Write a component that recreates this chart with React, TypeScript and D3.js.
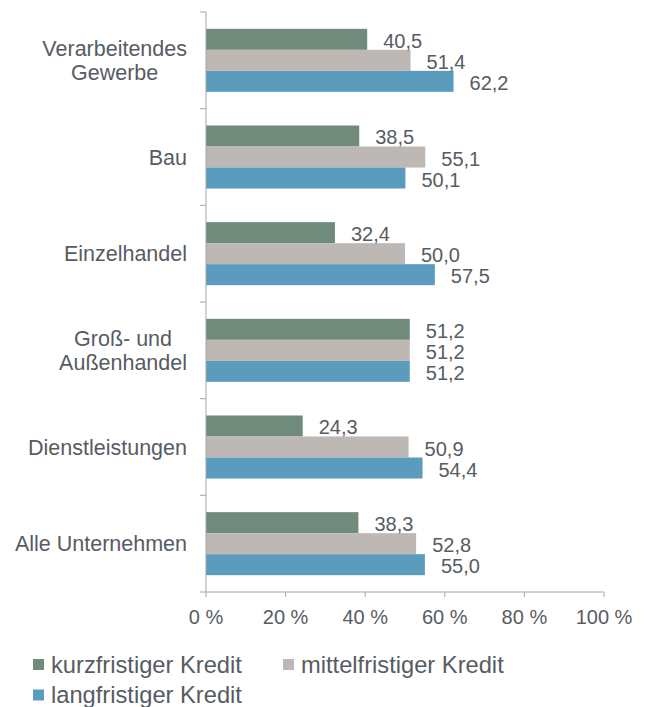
import React from "react";
import * as d3 from "d3";

const categories: string[][] = [
  ["Verarbeitendes", "Gewerbe"],
  ["Bau"],
  ["Einzelhandel"],
  ["Groß- und", "Außenhandel"],
  ["Dienstleistungen"],
  ["Alle Unternehmen"],
];
const seriesNames = ["kurzfristiger Kredit", "mittelfristiger Kredit", "langfristiger Kredit"];
const kurz = [40.5, 38.5, 32.4, 51.2, 24.3, 38.3];
const mittel = [51.4, 55.1, 50.0, 51.2, 50.9, 52.8];
const lang = [62.2, 50.1, 57.5, 51.2, 54.4, 55.0];
const seriesColors = ["#708A7C", "#BDB8B4", "#5B9BBE"];
const xTicks = [0, 20, 40, 60, 80, 100];

const W = 645;
const H = 707;
const FONT = "'Liberation Sans', Arial, sans-serif";
const TEXT = "#575C63";
const AXIS = "#A6A6A6";

function measure(text: string, size: number): number {
  const c = document.createElement("canvas").getContext("2d");
  if (!c) return text.length * size * 0.5;
  c.font = `${size}px 'Liberation Sans', Arial, sans-serif`;
  return c.measureText(text).width;
}

export default function App() {
  const left = 206;
  const right = 604;
  const top = 12;
  const bottom = 592;
  const catSize = 21.5;
  const valSize = 20;
  const legSize = 23.7;

  const x = d3.scaleLinear().domain([0, 100]).range([left, right]);
  const keys = categories.map((c) => c.join(" "));
  const y = d3.scaleBand<string>().domain(keys).range([top, bottom]).paddingInner(0.348).paddingOuter(0.174);
  const yStep = d3.scaleBand<string>().domain(keys).range([top, bottom]).padding(0);
  const ys = d3.scaleBand<number>().domain([0, 1, 2]).range([0, y.bandwidth()]).padding(0);
  const values = [kurz, mittel, lang];
  const fmt = (v: number) => d3.format(".1f")(v).replace(".", ",");

  const boundaries = keys.map((k) => yStep(k) as number).concat([bottom]);

  return (
    <svg width={W} height={H} style={{ position: "absolute", left: 0, top: 0, fontFamily: FONT }}>
      <rect width={W} height={H} fill="#fff" />
      {/* bars */}
      {keys.map((k, ci) =>
        values.map((arr, si) => (
          <rect
            key={`${ci}-${si}`}
            x={x(0)}
            y={(y(k) as number) + (ys(si) as number)}
            width={x(arr[ci]) - x(0)}
            height={ys.bandwidth()}
            fill={seriesColors[si]}
          />
        ))
      )}
      {/* value labels */}
      {keys.map((k, ci) =>
        values.map((arr, si) => (
          <text
            key={`l${ci}-${si}`}
            x={x(arr[ci]) + 16}
            y={(y(k) as number) + (ys(si) as number) + ys.bandwidth() / 2 + 1.5}
            dy="0.35em"
            fontSize={valSize}
            fill={TEXT}
          >
            {fmt(arr[ci])}
          </text>
        ))
      )}
      {/* y axis */}
      <line x1={left} x2={left} y1={top} y2={bottom} stroke={AXIS} strokeWidth={1} />
      {boundaries.map((b, i) => (
        <line key={`yt${i}`} x1={left - 6} x2={left} y1={b} y2={b} stroke={AXIS} strokeWidth={1} />
      ))}
      {/* x axis */}
      <line x1={left} x2={right} y1={bottom} y2={bottom} stroke={AXIS} strokeWidth={1} />
      {xTicks.map((t) => (
        <g key={`xt${t}`}>
          <line x1={x(t)} x2={x(t)} y1={bottom} y2={bottom + 5} stroke={AXIS} strokeWidth={1} />
          <text x={x(t)} y={617} dy="0.35em" textAnchor="middle" fontSize={valSize} fill={TEXT}>
            {`${t} %`}
          </text>
        </g>
      ))}
      {/* category labels */}
      {categories.map((lines, ci) => {
        const k = keys[ci];
        const cy = (yStep(k) as number) + yStep.bandwidth() / 2;
        const maxW = d3.max(lines, (l) => measure(l, catSize)) || 0;
        const cx = left - 19 - maxW / 2;
        const lh = 23.5;
        return lines.map((l, li) => (
          <text
            key={`c${ci}-${li}`}
            x={cx}
            y={cy + (li - (lines.length - 1) / 2) * lh}
            dy="0.35em"
            textAnchor="middle"
            fontSize={catSize}
            fill={TEXT}
          >
            {l}
          </text>
        ));
      })}
      {/* legend */}
      {seriesNames.map((n, i) => {
        const col = i % 2;
        const row = Math.floor(i / 2);
        const lx = 33 + col * 250;
        const lyc = 664.5 + row * 30.5;
        return (
          <g key={`lg${i}`}>
            <rect x={lx} y={lyc - 5.5} width={11} height={11} fill={seriesColors[i]} />
            <text x={lx + 18} y={lyc} dy="0.35em" fontSize={legSize} fill={TEXT}>
              {n}
            </text>
          </g>
        );
      })}
    </svg>
  );
}
